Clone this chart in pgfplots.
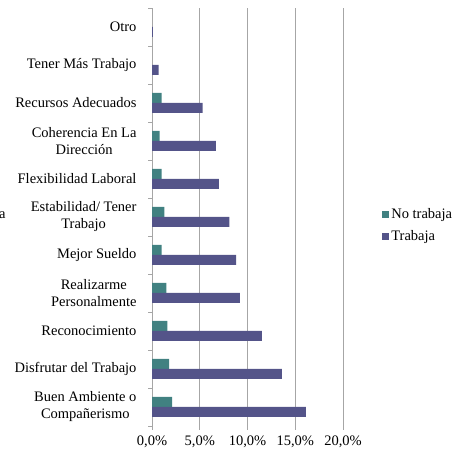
\documentclass[border=0pt]{standalone}
\usepackage{pgfplots}
\pgfplotsset{compat=1.18}
\usepackage{fontspec}
\setmainfont{Liberation Serif}
\definecolor{notrab}{HTML}{418181}
\definecolor{trab}{HTML}{545489}
\definecolor{gridc}{HTML}{A6A6A6}
\begin{document}
\begin{tikzpicture}
\useasboundingbox (0pt,0pt) rectangle (458pt,452pt);
\node[anchor=west, inner sep=0pt, font=\fontsize{14.5}{16}\selectfont] at (-1pt,237pt) {a};
\begin{axis}[
    at={(152pt,26pt)}, anchor=south west,
    scale only axis, width=191pt, height=418pt,
    xbar, bar width=10pt,
    xmin=0, xmax=20, ymin=-0.5, ymax=10.5,
    axis lines*=left,
    x axis line style={draw=none},
    y axis line style={gridc, line width=0.8pt},
    tick align=outside,
    major tick length=4pt,
    tick style={gridc, line width=0.8pt},
    xtick={0,5,10,15,20},
    xticklabels={{0,0\%},{5,0\%},{10,0\%},{15,0\%},{20,0\%}},
    xmajorgrids, grid style={gridc, line width=0.8pt},
    ytick={-0.5,0.5,...,10.5},
    yticklabels={},
    extra y ticks={0,1,2,3,4,5,6,7,8,9,10},
    extra y tick labels={{Buen Ambiente o\\Compañerismo},{Disfrutar del Trabajo},{Reconocimiento},{Realizarme\\Personalmente},{Mejor Sueldo},{Estabilidad/ Tener\\Trabajo},{Flexibilidad Laboral},{Coherencia En La\\Dirección},{Recursos Adecuados},{Tener Más Trabajo},{Otro}},
    extra y tick style={major tick length=0pt},
    ticklabel style={font=\fontsize{14.5}{17}\selectfont},
    yticklabel style={align=center, xshift=-12pt},
    xticklabel style={yshift=-2pt},
    legend style={at={(axis description cs:1.205,0.48)}, anchor=west, draw=none, fill=none,
        font=\fontsize{14.5}{16}\selectfont, row sep=6pt, inner sep=0pt},
    legend cell align=left,
    legend image code/.code={\draw[#1,draw=none] (0pt,-3.5pt) rectangle (7pt,3.5pt);},
]
\addplot[fill=notrab, draw=none, bar shift=5pt] coordinates {
    (2.1,0) (1.8,1) (1.6,2) (1.5,3) (1.0,4) (1.3,5) (1.0,6) (0.8,7) (1.0,8)
};
\addlegendentry{No trabaja}
\addplot[fill=trab, draw=none, bar shift=-5pt] coordinates {
    (16.1,0) (13.6,1) (11.5,2) (9.2,3) (8.8,4) (8.1,5) (7.0,6) (6.7,7) (5.3,8) (0.7,9) (0.1,10)
};
\addlegendentry{Trabaja}
\end{axis}
\end{tikzpicture}
\end{document}
